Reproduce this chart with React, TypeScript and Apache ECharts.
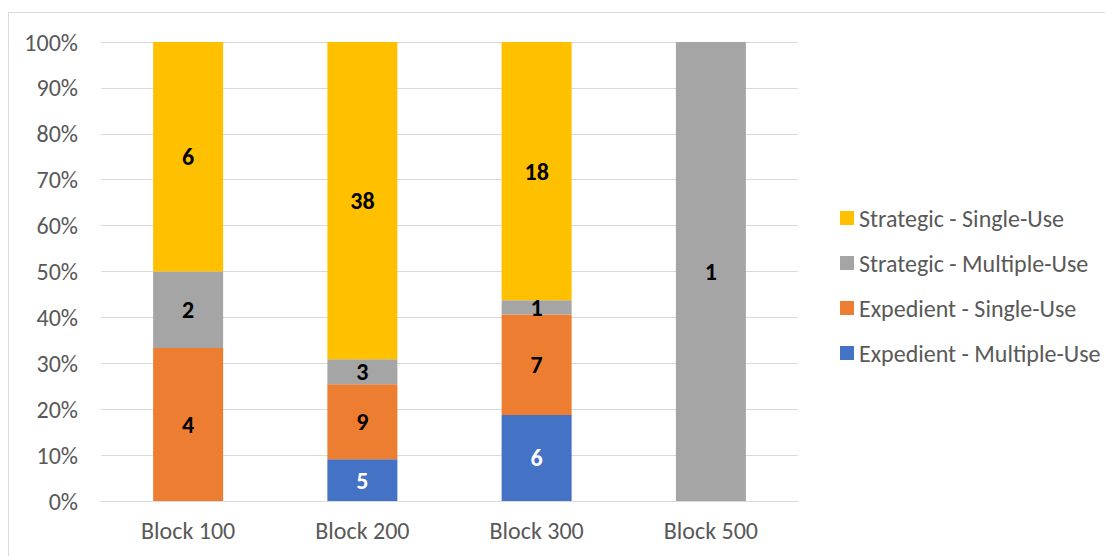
import React, { useEffect, useRef } from "react";
import * as echarts from "echarts";

const categories = ["Block 100", "Block 200", "Block 300", "Block 500"];
const expedientMultiple = [0, 5, 6, 0];
const expedientSingle = [4, 9, 7, 0];
const strategicMultiple = [2, 3, 1, 1];
const strategicSingle = [6, 38, 18, 0];

const seriesNames = [
  "Expedient - Multiple-Use",
  "Expedient - Single-Use",
  "Strategic - Multiple-Use",
  "Strategic - Single-Use",
];
const seriesCounts = [expedientMultiple, expedientSingle, strategicMultiple, strategicSingle];
const seriesColors = ["#4472C4", "#ED7D31", "#A5A5A5", "#FFC000"];
const labelColors = ["#FFFFFF", "#000000", "#000000", "#000000"];
const legendOrder = [
  "Strategic - Single-Use",
  "Strategic - Multiple-Use",
  "Expedient - Single-Use",
  "Expedient - Multiple-Use",
];

export default function App() {
  const ref = useRef<HTMLDivElement>(null);
  useEffect(() => {
    if (!ref.current) return;
    const chart = echarts.init(ref.current, null, { renderer: "svg" });
    const totals = categories.map((_, i) =>
      seriesCounts.reduce((s, arr) => s + arr[i], 0)
    );
    const font = "Carlito, Calibri, 'Open Sans', 'Liberation Sans', sans-serif";
    chart.setOption({
      animation: false,
      textStyle: { fontFamily: font },
      graphic: [
        {
          type: "rect",
          shape: { x: 0.5, y: 4.5, width: 1120, height: 560 },
          style: { fill: "none", stroke: "#D9D9D9", lineWidth: 1 },
          silent: true,
        },
      ],
      grid: { left: 93, right: 315, top: 34, bottom: 55 },
      legend: {
        orient: "vertical",
        left: 827,
        top: 193,
        itemWidth: 14,
        itemHeight: 14,
        itemGap: 21,
        icon: "rect",
        data: legendOrder,
        textStyle: { color: "#595959", fontSize: 24, fontFamily: font },
      },
      xAxis: {
        type: "category",
        data: categories,
        axisLine: { lineStyle: { color: "#D9D9D9", width: 1 } },
        axisTick: { show: false },
        axisLabel: { color: "#595959", fontSize: 24, margin: 17, fontFamily: font },
      },
      yAxis: {
        type: "value",
        min: 0,
        max: 100,
        interval: 10,
        axisLine: { show: false },
        axisTick: { show: false },
        splitLine: { lineStyle: { color: "#D9D9D9", width: 1 } },
        axisLabel: {
          formatter: "{value}%",
          color: "#595959",
          fontSize: 24,
          margin: 23,
          fontFamily: font,
        },
      },
      series: seriesNames.map((name, si) => ({
        name,
        type: "bar",
        stack: "total",
        barWidth: 70,
        itemStyle: { color: seriesColors[si] },
        data: seriesCounts[si].map((v, i) => (totals[i] ? (v / totals[i]) * 100 : 0)),
        label: {
          show: true,
          position: "inside",
          color: labelColors[si],
          fontWeight: "bold",
          fontSize: 24,
          fontFamily: font,
          formatter: (p: any) => {
            const c = seriesCounts[si][p.dataIndex];
            return c ? String(c) : "";
          },
        },
      })),
    });
    return () => chart.dispose();
  }, []);
  return <div ref={ref} style={{ width: 1105, height: 548 }} />;
}
